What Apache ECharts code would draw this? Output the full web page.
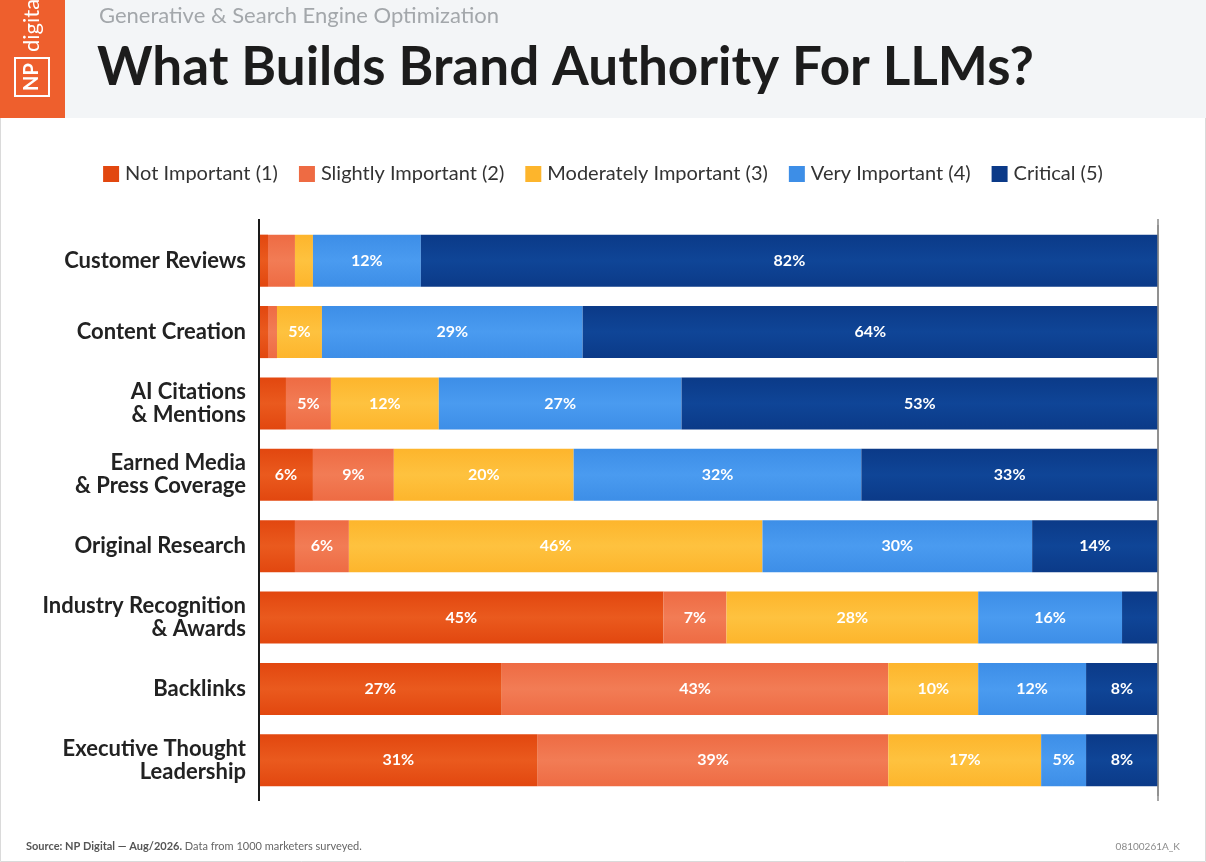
<!DOCTYPE html>
<html>
<head>
<meta charset="utf-8">
<title>What Builds Brand Authority For LLMs?</title>
<script src="https://cdn.jsdelivr.net/npm/echarts@6/dist/echarts.min.js"></script>
<style>
  html, body { margin: 0; padding: 0; background: #fff; }
  #chart { width: 1206px; height: 862px; }
</style>
</head>
<body>
<div id="chart"></div>
<script>
// categories, top to bottom
var categories = [
    'Customer Reviews',
    'Content Creation',
    'AI Citations\n& Mentions',
    'Earned Media\n& Press Coverage',
    'Original Research',
    'Industry Recognition\n& Awards',
    'Backlinks',
    'Executive Thought\nLeadership'
];
var seriesNames = ['Not Important (1)', 'Slightly Important (2)', 'Moderately Important (3)', 'Very Important (4)', 'Critical (5)'];
var notImportant      = [1, 1, 3, 6, 4, 45, 27, 31];
var slightlyImportant = [3, 1, 5, 9, 6, 7, 43, 39];
var moderately        = [2, 5, 12, 20, 46, 28, 10, 17];
var veryImportant     = [12, 29, 27, 32, 30, 16, 12, 5];
var critical          = [82, 64, 53, 33, 14, 4, 8, 8];
var xTicks = [0, 100];

var colors = ['#E2470F', '#EE6B43', '#FDB52C', '#3D8EE7', '#0B3A88'];
var colorsLight = ['#EA5A1E', '#F27C55', '#FEC23F', '#4A9BF0', '#0F4597'];
var fontFam = 'Lato, "Open Sans", sans-serif';

var chart = echarts.init(document.getElementById('chart'));

function grad(i) {
    return new echarts.graphic.LinearGradient(0, 0, 0, 1, [
        {offset: 0, color: colors[i]},
        {offset: 0.5, color: colorsLight[i]},
        {offset: 1, color: colors[i]}
    ]);
}

var allData = [notImportant, slightlyImportant, moderately, veryImportant, critical];
var series = [];
for (var i = 0; i < allData.length; i++) {
    series.push({
        name: seriesNames[i],
        type: 'bar',
        stack: 'total',
        barCategoryGap: '27%',
        data: allData[i],
        itemStyle: { color: grad(i) },
        label: {
            show: true,
            position: 'inside',
            color: '#fff',
            fontSize: 16,
            fontWeight: 'bold',
            fontFamily: fontFam,
            formatter: function (p) { return p.value >= 5 ? p.value + '%' : ''; }
        },
        emphasis: { disabled: true }
    });
}

var option = {
    animation: false,
    backgroundColor: '#ffffff',
    color: colors,
    title: [{
        text: 'Generative & Search Engine Optimization',
        left: 94, top: 0,
        textStyle: { fontSize: 22, fontWeight: 'normal', color: '#A3A7AB', fontFamily: fontFam }
    }, {
        text: 'What Builds Brand Authority For LLMs?',
        left: 92, top: 36,
        textStyle: { fontSize: 53, fontWeight: 'bold', color: '#1C1C1C', fontFamily: fontFam }
    }],
    legend: {
        top: 159, left: 'center',
        itemWidth: 16, itemHeight: 16, itemGap: 21,
        icon: 'rect',
        data: seriesNames.map(function (n, k) { return { name: n, itemStyle: { color: colors[k] } }; }),
        textStyle: { fontSize: 20, color: '#333', fontFamily: fontFam, padding: [0, 0, 0, 1] },
        selectedMode: false
    },
    grid: { left: 259, right: 48, top: 225, bottom: 66 },
    xAxis: {
        type: 'value', min: xTicks[0], max: xTicks[1], interval: 100,
        axisLine: { show: false }, axisTick: { show: false }, axisLabel: { show: false },
        splitLine: { show: true, lineStyle: { color: '#8A8A8A', width: 1.5 } }
    },
    yAxis: {
        type: 'category', inverse: true, data: categories,
        axisLine: { show: true, lineStyle: { color: '#1A1A1A', width: 2 } },
        axisTick: { show: false },
        axisLabel: {
            margin: 13, fontSize: 22, fontWeight: 'bold', color: '#222', lineHeight: 23,
            fontFamily: fontFam, align: 'right'
        }
    },
    graphic: [
        { type: 'rect', shape: { x: 0, y: 0, width: 1206, height: 118 }, style: { fill: '#F3F5F7' }, z: -10 },
        { type: 'rect', shape: { x: 0, y: 0, width: 65, height: 118 }, style: { fill: '#EE5F2D' }, z: -5 },
        { type: 'rect', shape: { x: 0.5, y: 0.5, width: 1205, height: 861 }, style: { fill: 'none', stroke: '#DADADA', lineWidth: 1 }, z: -20 },
        { type: 'line', shape: { x1: 259, y1: 219, x2: 259, y2: 801 }, style: { stroke: '#1A1A1A', lineWidth: 2 }, z: 5 },
        { type: 'line', shape: { x1: 1158, y1: 219, x2: 1158, y2: 801 }, style: { stroke: '#8A8A8A', lineWidth: 1.5 }, z: 5 },
        {
            type: 'group', x: 32, y: 96, rotation: Math.PI / 2,
            children: [
                { type: 'rect', shape: { x: 0, y: -17, width: 38, height: 34 }, style: { fill: 'none', stroke: '#fff', lineWidth: 2 } },
                { type: 'text', x: 19, y: 0, style: { text: 'NP', fill: '#fff', fontSize: 20, fontWeight: 'bold', fontFamily: fontFam, align: 'center', verticalAlign: 'middle' } },
                { type: 'text', x: 44, y: 0, style: { text: 'digital', fill: '#fff', fontSize: 22, fontFamily: fontFam, align: 'left', verticalAlign: 'middle' } }
            ]
        },
        {
            type: 'text', left: 26, top: 841,
            style: {
                text: '{b|Source: NP Digital — Aug/2026.} Data from 1000 marketers surveyed.',
                fill: '#666', fontSize: 11, fontFamily: fontFam,
                rich: { b: { fontWeight: 'bold', fontSize: 11, fill: '#555', fontFamily: fontFam } }
            }
        },
        { type: 'text', right: 26, top: 842, style: { text: '08100261A_K', fill: '#8A8A8A', fontSize: 10, fontFamily: fontFam } }
    ],
    series: series
};

chart.setOption(option);
</script>
</body>
</html>
